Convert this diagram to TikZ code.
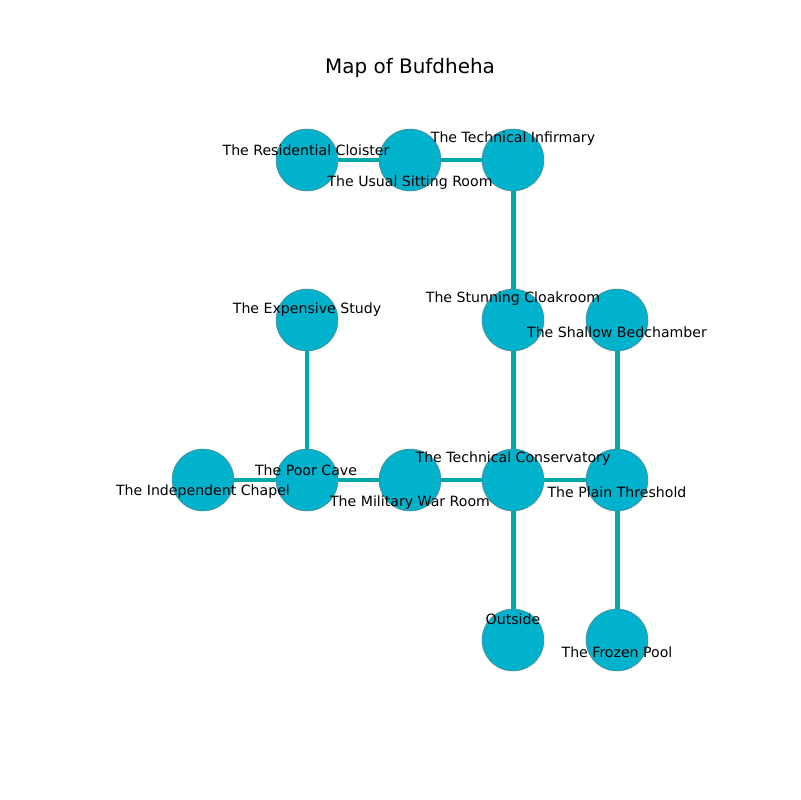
\documentclass[tikz,border=0pt]{standalone}
\usepackage{fontspec}
\setmainfont{DejaVu Sans}
\definecolor{roomfill}{HTML}{00B2CC}
\definecolor{passage}{HTML}{00A8A8}
\begin{document}
\begin{tikzpicture}[x=0.01in,y=-0.01in]

\tikzstyle{room}=[circle, fill=roomfill, draw=black!55, line width=0.3pt, minimum size=0.62in, inner sep=0pt]
\tikzstyle{link}=[draw=passage, line width=3.6pt]
\tikzstyle{lbl}=[font=\fontsize{10.2}{12}\selectfont, inner sep=0pt]

\useasboundingbox (0,0) rectangle (800,800);

\node[font=\fontsize{14.4}{17}\selectfont] (title) at (410,68) {Map of Bufdheha};

% rooms
\node[room] (cloister) at (307,160) {};
\node[room] (sitting) at (410,160) {};
\node[room] (infirmary) at (513,160) {};
\node[room] (study) at (307,320) {};
\node[room] (cloakroom) at (513,320) {};
\node[room] (bedchamber) at (617,320) {};
\node[room] (chapel) at (203,480) {};
\node[room] (cave) at (307,480) {};
\node[room] (warroom) at (410,480) {};
\node[room] (conservatory) at (513,480) {};
\node[room] (threshold) at (617,480) {};
\node[room] (outside) at (513,640) {};
\node[room] (pool) at (617,640) {};

% passages
\draw[link] (cloister) -- (sitting);
\draw[link] (sitting) -- (infirmary);
\draw[link] (infirmary) -- (cloakroom);
\draw[link] (cloakroom) -- (conservatory);
\draw[link] (study) -- (cave);
\draw[link] (chapel) -- (cave);
\draw[link] (cave) -- (warroom);
\draw[link] (warroom) -- (conservatory);
\draw[link] (conservatory) -- (threshold);
\draw[link] (bedchamber) -- (threshold);
\draw[link] (conservatory) -- (outside);
\draw[link] (threshold) -- (pool);

% labels
\node[lbl] (lcloister) at (306,150) {The Residential Cloister};
\node[lbl] (lsitting) at (410,183) {The Usual Sitting Room};
\node[lbl] (linfirmary) at (513,139) {The Technical Infirmary};
\node[lbl] (lstudy) at (307,310) {The Expensive Study};
\node[lbl] (lcloakroom) at (513,299) {The Stunning Cloakroom};
\node[lbl] (lbedchamber) at (617,332) {The Shallow Bedchamber};
\node[lbl] (lchapel) at (203,492) {The Independent Chapel};
\node[lbl] (lcave) at (306,470) {The Poor Cave};
\node[lbl] (lwarroom) at (410,503) {The Military War Room};
\node[lbl] (lconservatory) at (513,459) {The Technical Conservatory};
\node[lbl] (lthreshold) at (617,492) {The Plain Threshold};
\node[lbl] (loutside) at (513,619) {Outside};
\node[lbl] (lpool) at (617,652) {The Frozen Pool};

\end{tikzpicture}
\end{document}
